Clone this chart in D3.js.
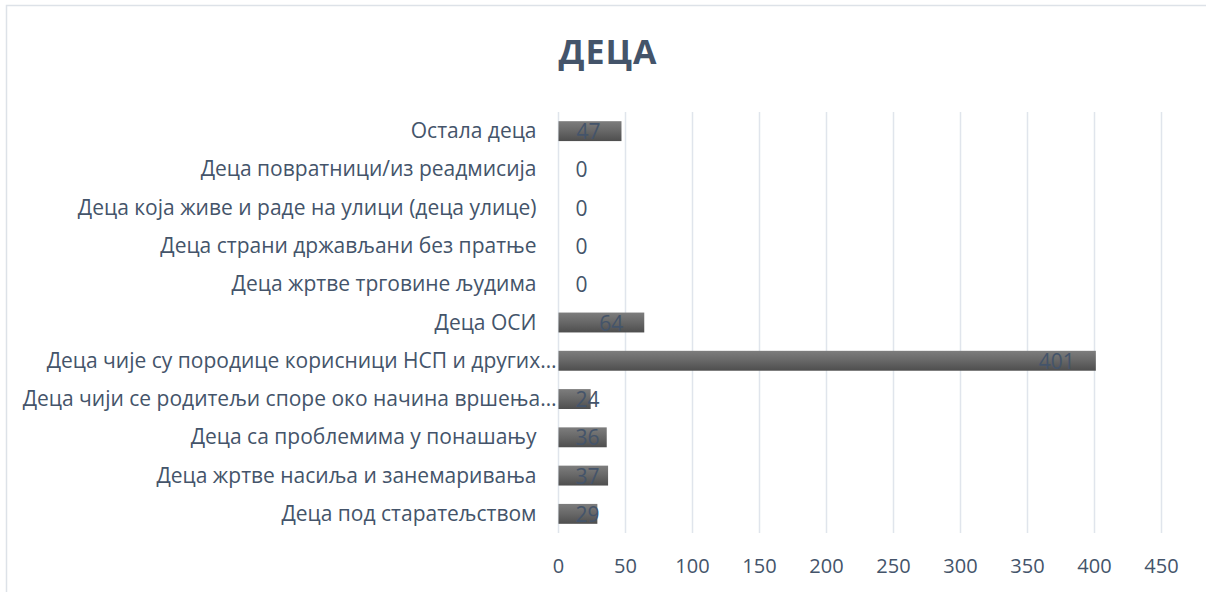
<!DOCTYPE html>
<html>
<head>
<meta charset="utf-8">
<script src="https://cdn.jsdelivr.net/npm/d3@7"></script>
<style>
body { margin: 0; background: #fff; }
</style>
</head>
<body>
<div id="chart"></div>
<script>
var width = 1206
var height = 592

// categories top to bottom, as shown
var categories = ['Остала деца', 'Деца повратници/из реадмисија', 'Деца која живе и раде на улици (деца улице)',
  'Деца страни држављани без пратње', 'Деца жртве трговине људима', 'Деца ОСИ',
  'Деца чије су породице корисници НСП и других…', 'Деца чији се родитељи споре око начина вршења…',
  'Деца са проблемима у понашању', 'Деца жртве насиља и занемаривања', 'Деца под старатељством']
var values = [47, 0, 0, 0, 0, 64, 401, 24, 36, 37, 29]
var ticks = [0, 50, 100, 150, 200, 250, 300, 350, 400, 450]
var title = 'ДЕЦА'

var text_col = '#44546a'
var font = "'Open Sans', 'Noto Sans', sans-serif"

var svg = d3.select('#chart')
  .append('svg')
  .attr('width', width)
  .attr('height', height)

// chart frame (runs off the right and bottom edge)
svg.append('rect')
  .attr('x', 6.5)
  .attr('y', 5.5)
  .attr('width', 1300)
  .attr('height', 700)
  .attr('fill', 'none')
  .attr('stroke', '#dde2e8')
  .attr('stroke-width', 1.5)

var grad = svg.append('defs').append('linearGradient')
  .attr('id', 'bar_grad')
  .attr('x1', 0).attr('y1', 0).attr('x2', 0).attr('y2', 1)
grad.append('stop').attr('offset', '0%').attr('stop-color', '#7d7d7d')
grad.append('stop').attr('offset', '50%').attr('stop-color', '#676767')
grad.append('stop').attr('offset', '100%').attr('stop-color', '#4e4e4e')

var x = d3.scaleLinear()
  .domain([0, 450])
  .range([558.5, 1161.5])

var y = d3.scaleBand()
  .domain(categories)
  .range([112, 533])
  .paddingInner(0.48)
  .paddingOuter(0.24)

// gridlines
svg.selectAll('.grid')
  .data(ticks)
  .enter()
  .append('line')
  .attr('x1', function(d) { return x(d) })
  .attr('x2', function(d) { return x(d) })
  .attr('y1', 112)
  .attr('y2', 533)
  .attr('stroke', '#e0e5ec')
  .attr('stroke-width', 1.5)

// tick labels
svg.selectAll('.tick_lab')
  .data(ticks)
  .enter()
  .append('text')
  .attr('x', function(d) { return x(d) })
  .attr('y', 573)
  .text(function(d) { return d })
  .attr('text-anchor', 'middle')
  .attr('fill', text_col)
  .style('font-family', font)
  .style('font-size', '20px')

// category labels (truncated ones sit closer to the axis)
svg.selectAll('.cat_lab')
  .data(categories)
  .enter()
  .append('text')
  .attr('x', function(d) { return d.slice(-1) === '…' ? x(0) - 2 : x(0) - 22 })
  .attr('y', function(d) { return y(d) + y.bandwidth() / 2 + 7 })
  .text(function(d) { return d })
  .attr('text-anchor', 'end')
  .attr('fill', text_col)
  .style('font-family', font)
  .style('font-size', '21px')

// bars
svg.selectAll('.bar')
  .data(values)
  .enter()
  .append('rect')
  .attr('x', x(0))
  .attr('y', function(d, i) { return y(categories[i]) })
  .attr('width', function(d) { return x(d) - x(0) })
  .attr('height', y.bandwidth())
  .attr('fill', 'url(#bar_grad)')

// data labels, inside end, pushed right for short bars
svg.selectAll('.val_lab')
  .data(values)
  .enter()
  .append('text')
  .attr('y', function(d, i) { return y(categories[i]) + y.bandwidth() / 2 + 8 })
  .text(function(d) { return d })
  .attr('fill', text_col)
  .style('font-family', font)
  .style('font-size', '21px')
  .attr('x', function(d) {
    var w = this.getComputedTextLength()
    return Math.max(x(d) - 21 - w, x(0) + 17)
  })

// title
svg.append('text')
  .attr('x', 608)
  .attr('y', 64)
  .text(title)
  .attr('text-anchor', 'middle')
  .attr('fill', text_col)
  .style('font-family', font)
  .style('font-weight', 'bold')
  .style('font-size', '34px')
  .style('letter-spacing', '1px')
</script>
</body>
</html>
